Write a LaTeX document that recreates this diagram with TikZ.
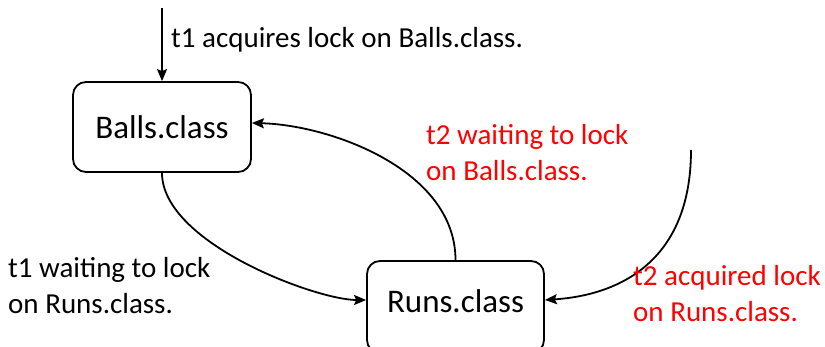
\documentclass[tikz,border=0pt]{standalone}
\usepackage{fontspec}
\setmainfont{Carlito}
\usetikzlibrary{arrows.meta}
\definecolor{lblred}{RGB}{255,0,0}
\tikzset{
  statebox/.style={draw=black, line width=1.8pt, rounded corners=13pt, minimum width=178pt, inner sep=0pt, font=\fontsize{33}{40}\selectfont},
  conn/.style={line width=1.8pt, -{Stealth[length=12pt,width=10pt,inset=2pt]}},
  lbl/.style={anchor=west, align=left, inner sep=0pt, font=\fontsize{29}{36}\selectfont},
  redlbl/.style={lbl, text=lblred}
}
\begin{document}
\begin{tikzpicture}[x=1pt,y=1pt]
\useasboundingbox (0,0) rectangle (825,347);
\node[statebox, minimum height=90pt] (balls) at (162,220) {Balls.class};
\node[statebox, minimum width=177pt, text height=51.5pt, text depth=40.5pt, anchor=base] (runs) at (455.5,34.5) {Runs.class};
\coordinate (topstart) at (162,339);
\coordinate (rstart) at (691,197);
\coordinate (runsW) at ([yshift=7pt]runs.west);
\coordinate (runsE) at ([yshift=7pt]runs.east);
\coordinate (ballsE) at ([yshift=4pt]balls.east);
\draw[conn] (topstart) -- (balls.north);
\draw[conn] (balls.south) .. controls +(0,-70) and +(-50,0) .. (runsW);
\draw[conn] (runs.north) .. controls +(0,90) and +(79,-2) .. (ballsE);
\draw[conn] (rstart) .. controls +(0,-110) and +(76,5) .. (runsE);
\node[lbl] (l1) at (171,307) {t1 acquires lock on Balls.class.};
\node[lbl] (l2) at (8,61.5) {t1 waiting to lock\\on Runs.class.};
\node[redlbl] (l3) at (426,194) {t2 waiting to lock\\on Balls.class.};
\node[redlbl] (l4) at (633,53.5) {t2 acquired lock\\on Runs.class.};
\end{tikzpicture}
\end{document}
